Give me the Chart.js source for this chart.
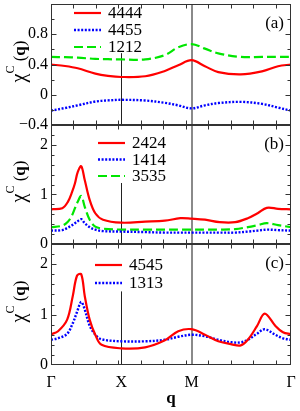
<!DOCTYPE html>
<html>
<head>
<meta charset="utf-8">
<script src="https://cdn.jsdelivr.net/npm/chart.js@4/dist/chart.umd.min.js"></script>
<style>
  body { margin: 0; background: #fff; }
  #wrap { position: relative; width: 300px; height: 411px; }
  #wrap canvas { position: absolute; left: 0; top: 0; }
</style>
</head>
<body>
<div id="wrap">
  <canvas id="chartA" width="300" height="411"></canvas>
  <canvas id="chartB" width="300" height="411"></canvas>
  <canvas id="chartC" width="300" height="411"></canvas>
</div>
<script>
// path Γ-X-M-Γ, distance along the path
const qTicks = [0, 1, 2, 2 + Math.SQRT2];
const qTickLabels = ['Γ', 'X', 'M', 'Γ'];

// panel (a)
const qA = [0, 0.2, 0.38, 0.63, 0.81, 1.0, 1.34, 1.62, 1.81, 2.0, 2.19, 2.38, 2.70, 3.0, 3.23, 3.414];
const chi4444 = [0.40, 0.38, 0.35, 0.28, 0.25, 0.235, 0.245, 0.315, 0.39, 0.457, 0.377, 0.30, 0.27, 0.31, 0.377, 0.40];
const chi4455 = [-0.21, -0.175, -0.14, -0.09, -0.075, -0.067, -0.076, -0.107, -0.14, -0.18, -0.14, -0.11, -0.094, -0.12, -0.17, -0.21];
const chi1212 = [0.50, 0.497, 0.49, 0.475, 0.47, 0.467, 0.467, 0.524, 0.627, 0.67, 0.61, 0.547, 0.50, 0.50, 0.50, 0.50];
const yLabelsA = [-0.4, 0, 0.4, 0.8];

// panel (b)
const qB = [0, 0.16, 0.24, 0.30, 0.34, 0.38, 0.43, 0.48, 0.55, 0.63, 0.74, 1.0, 1.34, 1.62, 1.84, 2.0, 2.19, 2.4, 2.62, 2.8, 2.94, 3.07, 3.23, 3.414];
const chi2424 = [0.70, 0.72, 0.85, 1.05, 1.22, 1.45, 1.57, 1.29, 0.89, 0.62, 0.49, 0.43, 0.45, 0.47, 0.52, 0.51, 0.49, 0.44, 0.44, 0.52, 0.62, 0.73, 0.71, 0.70];
const chi1414 = [0.27, 0.28, 0.33, 0.38, 0.42, 0.46, 0.50, 0.42, 0.34, 0.29, 0.26, 0.25, 0.24, 0.23, 0.23, 0.23, 0.23, 0.23, 0.23, 0.25, 0.27, 0.29, 0.28, 0.27];
const chi3535 = [0.34, 0.37, 0.45, 0.58, 0.72, 0.85, 0.97, 0.75, 0.49, 0.35, 0.31, 0.29, 0.29, 0.29, 0.29, 0.29, 0.29, 0.29, 0.30, 0.34, 0.38, 0.42, 0.38, 0.34];

// panel (c)
const qC = [0, 0.10, 0.23, 0.31, 0.37, 0.43, 0.48, 0.55, 0.63, 0.72, 1.0, 1.34, 1.62, 1.81, 2.0, 2.19, 2.38, 2.57, 2.70, 2.80, 2.93, 3.04, 3.19, 3.30, 3.414];
const chi4545 = [0.61, 0.67, 0.90, 1.37, 1.77, 1.80, 1.37, 0.90, 0.60, 0.40, 0.33, 0.35, 0.49, 0.67, 0.71, 0.60, 0.47, 0.41, 0.39, 0.50, 0.77, 1.02, 0.78, 0.65, 0.61];
const chi1313 = [0.50, 0.53, 0.62, 0.83, 1.05, 1.25, 1.10, 0.78, 0.60, 0.51, 0.47, 0.47, 0.50, 0.56, 0.60, 0.57, 0.50, 0.45, 0.45, 0.50, 0.62, 0.71, 0.60, 0.53, 0.50];
const yLabelsBC = [0, 1, 2];

const SERIF = 'Liberation Serif';
const RED = 'rgb(255,0,0)', BLUE = 'rgb(0,0,255)', GREEN = 'rgb(0,230,0)';

function pts(xs, ys) {
  return xs.map((x, i) => ({ x: x, y: ys[i] }));
}
function solid(label, xs, ys) {
  return { label, data: pts(xs, ys), borderColor: RED, borderWidth: 2.2 };
}
function dotted(label, xs, ys) {
  return { label, data: pts(xs, ys), borderColor: BLUE, borderWidth: 2.4, borderDash: [2, 1.6] };
}
function dashed(label, xs, ys) {
  return { label, data: pts(xs, ys), borderColor: GREEN, borderWidth: 2.2, borderDash: [9, 4] };
}

function line(ctx, x1, y1, x2, y2) {
  ctx.beginPath();
  ctx.moveTo(x1, y1);
  ctx.lineTo(x2, y2);
  ctx.stroke();
}

// frame, inward ticks, symmetry lines, legend, labels
const panelPlugin = {
  id: 'panel',
  beforeDatasetsDraw(chart, args, opts) {
    const { ctx, chartArea: a, scales: { x, y } } = chart;
    ctx.save();
    ctx.strokeStyle = '#8a8a8a';
    ctx.lineWidth = 2;
    const xm = Math.round(x.getPixelForValue(qTicks[2]));
    line(ctx, xm, a.top, xm, a.bottom);
    ctx.strokeStyle = '#222';
    ctx.lineWidth = 1;
    const xx = Math.round(x.getPixelForValue(qTicks[1])) + 0.5;
    line(ctx, xx, y.getPixelForValue(opts.xLineTop), xx, a.bottom);
    ctx.restore();
  },
  afterDatasetsDraw(chart, args, opts) {
    const { ctx, chartArea: a, scales: { x, y } } = chart;
    ctx.save();
    ctx.strokeStyle = '#333';
    ctx.lineWidth = 1;
    const L = Math.round(a.left) + 0.5, R = Math.round(a.right) - 0.5;
    const T = Math.round(a.top) + 0.5, B = Math.round(a.bottom) - 0.5;
    ctx.strokeRect(L, T, R - L, B - T);

    // x ticks
    for (let v = 0.32; v < qTicks[3] - 0.05; v += 0.32) {
      const px = Math.round(x.getPixelForValue(v)) + 0.5;
      line(ctx, px, T, px, T + 4);
      line(ctx, px, B, px, B - 4);
    }
    // y ticks
    for (let v = y.min + opts.minorStep; v < y.max - 1e-6; v += opts.minorStep) {
      const py = Math.round(y.getPixelForValue(v)) + 0.5;
      const major = opts.majors.some(m => Math.abs(m - v) < 1e-6);
      const len = major ? 5 : 3;
      line(ctx, L, py, L + len, py);
      line(ctx, R, py, R - len, py);
    }

    // legend
    const lg = opts.legend;
    ctx.font = '17px "' + SERIF + '"';
    ctx.textBaseline = 'middle';
    chart.data.datasets.forEach((ds, i) => {
      const ly = lg.y + i * lg.dy;
      ctx.save();
      ctx.strokeStyle = ds.borderColor;
      ctx.lineWidth = ds.borderWidth;
      ctx.setLineDash(ds.borderDash || []);
      line(ctx, lg.x, ly, lg.x + 27, ly);
      ctx.restore();
      ctx.fillStyle = '#000';
      ctx.fillText(ds.label, lg.x + 34, ly + 1);
    });

    // panel label
    ctx.textAlign = 'right';
    ctx.font = '17px "' + SERIF + '"';
    ctx.fillText(opts.tag, 284, a.top + 20);

    // y title: χ^C(q)
    ctx.translate(25, (a.top + a.bottom) / 2 - 3);
    ctx.rotate(-Math.PI / 2);
    ctx.textAlign = 'left';
    ctx.textBaseline = 'alphabetic';
    const parts = [
      { t: 'χ', f: '20px "' + SERIF + '"', dy: 0 },
      { t: 'C', f: '12px "' + SERIF + '"', dy: -11 },
      { t: ' (', f: '17px "' + SERIF + '"', dy: 0 },
      { t: 'q', f: 'bold 17px "' + SERIF + '"', dy: 0 },
      { t: ')', f: '17px "' + SERIF + '"', dy: 0 }
    ];
    let total = 0;
    parts.forEach(p => { ctx.font = p.f; p.w = ctx.measureText(p.t).width; total += p.w; });
    let cx = -total / 2;
    parts.forEach(p => {
      ctx.font = p.f;
      ctx.fillText(p.t, cx, p.dy);
      cx += p.w;
    });
    ctx.restore();
  }
};

function xScale(show) {
  return {
    type: 'linear',
    min: 0,
    max: qTicks[3],
    display: show,
    afterBuildTicks: s => { s.ticks = qTicks.map(v => ({ value: v })); },
    afterFit: s => { if (show) s.height = 46; s.paddingLeft = 0; s.paddingRight = 0; },
    grid: { display: false, drawTicks: false },
    border: { display: false },
    ticks: {
      padding: 8, autoSkip: false, maxRotation: 0, color: '#000',
      font: { family: SERIF, size: 16 },
      callback: (v, i) => qTickLabels[i]
    },
    title: {
      display: show, text: 'q', color: '#000',
      font: { family: SERIF, size: 17, weight: 'bold' },
      padding: { top: 0, bottom: 2 }
    }
  };
}

function yScale(min, max, labels) {
  return {
    min: min,
    max: max,
    afterBuildTicks: s => { s.ticks = labels.map(v => ({ value: v })); },
    afterFit: s => { s.width = 51; s.paddingTop = 0; s.paddingBottom = 0; },
    grid: { display: false, drawTicks: false },
    border: { display: false },
    ticks: {
      padding: 3, autoSkip: false, color: '#000',
      font: { family: SERIF, size: 16 },
      callback: v => v < 0 ? '\u2212' + Math.abs(v) : String(v)
    }
  };
}

function makeChart(id, datasets, pad, showX, ymin, ymax, labels, panelOpts) {
  return new Chart(document.getElementById(id), {
    type: 'line',
    data: { datasets: datasets },
    options: {
      responsive: false,
      animation: false,
      events: [],
      layout: { padding: pad },
      elements: {
        point: { radius: 0 },
        line: { tension: 0.35, fill: false, borderCapStyle: 'butt' }
      },
      scales: { x: xScale(showX), y: yScale(ymin, ymax, labels) },
      plugins: {
        legend: { display: false },
        tooltip: { enabled: false },
        panel: panelOpts
      }
    },
    plugins: [panelPlugin]
  });
}

makeChart('chartA',
  [solid('4444', qA, chi4444), dotted('4455', qA, chi4455), dashed('1212', qA, chi1212)],
  { top: 4, bottom: 286, left: 0, right: 9 }, false, -0.4, 1.2, yLabelsA,
  { tag: '(a)', xLineTop: 0.55, minorStep: 0.2, majors: yLabelsA, legend: { x: 74, y: 13, dy: 17 } });

makeChart('chartB',
  [solid('2424', qB, chi2424), dotted('1414', qB, chi1414), dashed('3535', qB, chi3535)],
  { top: 125, bottom: 167, left: 0, right: 9 }, false, 0, 2.4, yLabelsBC,
  { tag: '(b)', xLineTop: 1.23, minorStep: 0.2, majors: yLabelsBC, legend: { x: 98, y: 143, dy: 16.5 } });

makeChart('chartC',
  [solid('4545', qC, chi4545), dotted('1313', qC, chi1313)],
  { top: 244, bottom: 0, left: 0, right: 9 }, true, 0, 2.4, yLabelsBC,
  { tag: '(c)', xLineTop: 1.46, minorStep: 0.2, majors: yLabelsBC, legend: { x: 95, y: 265, dy: 18 } });
</script>
</body>
</html>
